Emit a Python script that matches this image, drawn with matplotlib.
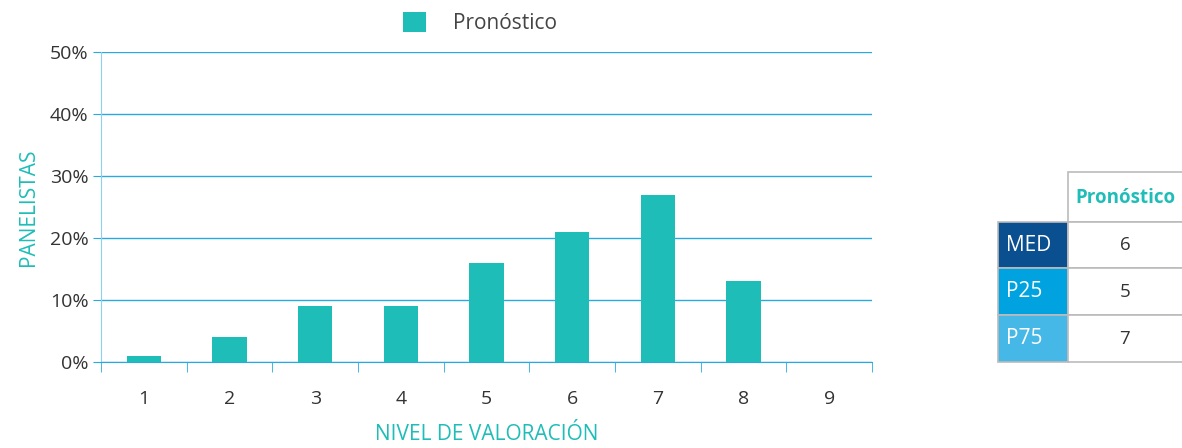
import matplotlib.pyplot as plt
from matplotlib.patches import Rectangle
from matplotlib.ticker import FuncFormatter, MultipleLocator
import numpy as np

plt.rcParams['font.family'] = ['Open Sans', 'DejaVu Sans']

# data
niveles = [1, 2, 3, 4, 5, 6, 7, 8, 9]
pronostico = [1, 4, 9, 9, 16, 21, 27, 13, 0]
stat_labels = ['MED', 'P25', 'P75']
stat_values = [6, 5, 7]
stat_colors = ['#0a4f8f', '#00a3e0', '#45b8e8']

teal = '#1fbdb8'
grid_blue = '#29a9e0'
text_dark = '#333333'

fig = plt.figure(figsize=(11.82, 4.48), dpi=100)
ax = fig.add_axes([101 / 1182, 1 - 362 / 448, 771 / 1182, 310 / 448])

ax.bar(niveles, pronostico, width=0.4, color=teal, label='Pronóstico', zorder=3)

ax.set_xlim(0.5, 9.5)
ax.set_ylim(0, 50)
ax.yaxis.set_major_locator(MultipleLocator(10))
ax.yaxis.set_major_formatter(FuncFormatter(lambda v, p: f'{int(v)}%'))
ax.grid(axis='y', color=grid_blue, linewidth=1, zorder=0)
ax.set_axisbelow(True)

for s in ['top', 'right']:
    ax.spines[s].set_visible(False)
ax.spines['left'].set_color('#8fd0ee')
ax.spines['bottom'].set_color(grid_blue)

ax.set_xticks(niveles)
ax.set_xticklabels([str(n) for n in niveles])
ax.tick_params(axis='x', which='major', length=0, pad=20, labelsize=14, labelcolor=text_dark)
ax.set_xticks(np.arange(0.5, 10, 1), minor=True)
ax.tick_params(axis='x', which='minor', length=7, color=grid_blue, direction='out')
ax.tick_params(axis='y', length=6, color=grid_blue, labelsize=14, labelcolor=text_dark, pad=3)

ax.set_xlabel('NIVEL DE VALORACIÓN', color=teal, fontsize=15, labelpad=12)
ax.set_ylabel('PANELISTAS', color=teal, fontsize=15, labelpad=8)

leg = fig.legend(loc='upper center', bbox_to_anchor=(0.406, 1.015), frameon=False,
                 fontsize=15, handlelength=1.1, handleheight=1.1, handletextpad=1.3)
for t in leg.get_texts():
    t.set_color('#444444')

# side table
W, H = 1182, 448
def rect(x0, y0, x1, y1, **kw):
    fig.patches.append(Rectangle((x0 / W, 1 - y1 / H), (x1 - x0) / W, (y1 - y0) / H,
                                 transform=fig.transFigure, **kw))

col0, col1, col2 = 998, 1068, 1182
rows = [222, 268, 315, 362]
border = '#bbbbbb'
rect(col1, 172, col2 + 2, 222, facecolor='white', edgecolor=border, linewidth=1.2)
fig.text((col1 + col2) / 2 / W, 1 - 198 / H, 'Pronóstico', color=teal, fontsize=13.5,
         fontweight='bold', ha='center', va='center')
for i, (lab, val, c) in enumerate(zip(stat_labels, stat_values, stat_colors)):
    y0, y1 = rows[i], rows[i + 1]
    rect(col0, y0, col1, y1, facecolor=c, edgecolor=border, linewidth=1.2)
    rect(col1, y0, col2 + 2, y1, facecolor='white', edgecolor=border, linewidth=1.2)
    fig.text((col0 + 8) / W, 1 - (y0 + y1) / 2 / H, lab, color='white', fontsize=15,
             ha='left', va='center')
    fig.text((col1 + col2) / 2 / W, 1 - (y0 + y1) / 2 / H, str(val), color=text_dark,
             fontsize=13.5, ha='center', va='center')

fig.savefig('out.png', dpi=100)
